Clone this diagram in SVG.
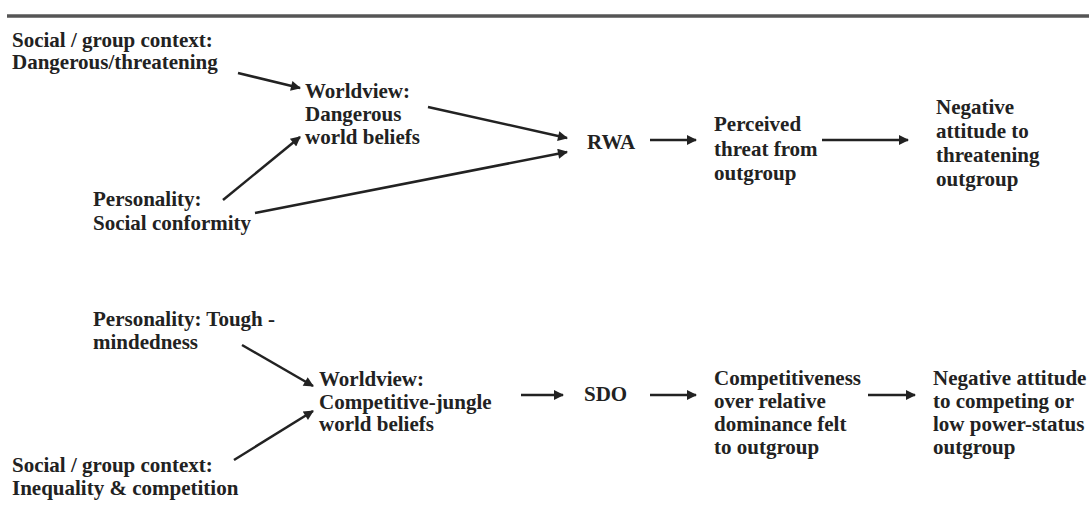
<svg xmlns="http://www.w3.org/2000/svg" width="1089" height="508" viewBox="0 0 1089 508">
<style>
text{font-family:"Liberation Serif","Times New Roman",serif;font-weight:bold;font-size:21px;fill:#222}
.c{stroke:#222;stroke-width:2.5;fill:none;marker-end:url(#ah)}
</style>
<defs>
<marker id="ah" viewBox="0 0 10 10" refX="9" refY="5" markerWidth="5" markerHeight="4" markerUnits="strokeWidth" orient="auto">
<path d="M0,0 L10,5 L0,10 z" fill="#222"/>
</marker>
</defs>
<rect width="1089" height="508" fill="#fff"/>
<line x1="7" y1="16" x2="1089" y2="16" stroke="#555" stroke-width="3.5"/>
<g id="n1"><text x="12" y="47">Social / group context:</text><text x="12" y="69">Dangerous/threatening</text></g>
<g id="n2"><text x="305" y="98">Worldview:</text><text x="305" y="121">Dangerous</text><text x="305" y="144">world beliefs</text></g>
<g id="n3"><text x="93" y="206">Personality:</text><text x="93" y="230">Social conformity</text></g>
<g id="n4"><text x="587" y="149">RWA</text></g>
<g id="n5"><text x="714" y="131">Perceived</text><text x="714" y="156">threat from</text><text x="714" y="180">outgroup</text></g>
<g id="n6"><text x="936" y="114">Negative</text><text x="936" y="138">attitude to</text><text x="936" y="162">threatening</text><text x="936" y="186">outgroup</text></g>
<g id="n7"><text x="93" y="326">Personality: Tough -</text><text x="93" y="349">mindedness</text></g>
<g id="n8"><text x="319" y="386">Worldview:</text><text x="319" y="409">Competitive-jungle</text><text x="319" y="431">world beliefs</text></g>
<g id="n9"><text x="12" y="472">Social / group context:</text><text x="12" y="495">Inequality &amp; competition</text></g>
<g id="n10"><text x="584" y="401">SDO</text></g>
<g id="n11"><text x="714" y="385">Competitiveness</text><text x="714" y="408">over relative</text><text x="714" y="431">dominance felt</text><text x="714" y="454">to outgroup</text></g>
<g id="n12"><text x="933" y="385">Negative attitude</text><text x="933" y="408">to competing or</text><text x="933" y="431">low power-status</text><text x="933" y="454">outgroup</text></g>
<g id="connectors">
<line class="c" x1="238" y1="73" x2="300" y2="88"/>
<line class="c" x1="223" y1="200" x2="300" y2="137"/>
<line class="c" x1="428" y1="107" x2="567" y2="138"/>
<line class="c" x1="255" y1="213" x2="567" y2="152"/>
<line class="c" x1="650" y1="140" x2="696" y2="140"/>
<line class="c" x1="822" y1="140" x2="908" y2="140"/>
<line class="c" x1="242" y1="345" x2="313" y2="386"/>
<line class="c" x1="234" y1="460" x2="313" y2="411"/>
<line class="c" x1="521" y1="395" x2="563" y2="395"/>
<line class="c" x1="650" y1="395" x2="696" y2="395"/>
<line class="c" x1="868" y1="395" x2="915" y2="395"/>
</g>
</svg>
